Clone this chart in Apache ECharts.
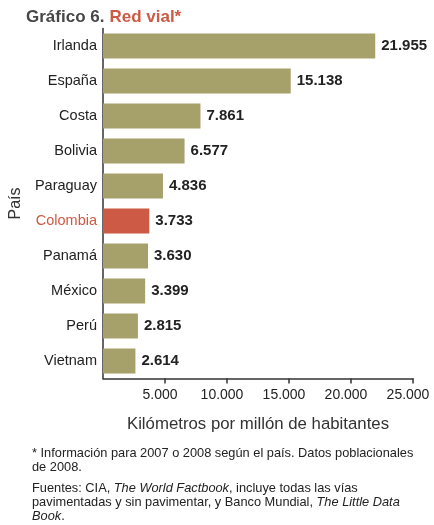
<!DOCTYPE html>
<html>
<head>
<meta charset="utf-8">
<script src="https://cdn.jsdelivr.net/npm/echarts@6/dist/echarts.min.js"></script>
<style>
  html, body { margin: 0; padding: 0; background: #fff; }
  #chart { width: 434px; height: 525px; }
</style>
</head>
<body>
<div id="chart"></div>
<script>
// Red vial: kilómetros de vías por millón de habitantes
var paises = ['Irlanda', 'España', 'Costa', 'Bolivia', 'Paraguay', 'Colombia', 'Panamá', 'México', 'Perú', 'Vietnam'];
var kmPorMillon = [21955, 15138, 7861, 6577, 4836, 3733, 3630, 3399, 2815, 2614];
var ticksX = [5000, 10000, 15000, 20000, 25000];
var destacado = 'Colombia';

var OLIVA = '#a6a06b';
var ROJO = '#cd5a44';
var FONT = '"Liberation Sans", Arial, sans-serif';

function miles(v) {
  return String(v).replace(/\B(?=(\d{3})+(?!\d))/g, '.');
}

var chart = echarts.init(document.getElementById('chart'));

chart.setOption({
  animation: false,
  textStyle: { fontFamily: FONT },
  title: {
    text: '{a|Gráfico 6.} {b|Red vial*}',
    left: 21,
    top: 3,
    textStyle: {
      rich: {
        a: { fontFamily: FONT, fontSize: 17, fontWeight: 'bold', color: '#474747' },
        b: { fontFamily: FONT, fontSize: 17, fontWeight: 'bold', color: ROJO }
      }
    }
  },
  grid: { left: 103, right: 21, top: 28.5, bottom: 146.5, containLabel: false },
  xAxis: {
    type: 'value',
    min: 0,
    max: 25000,
    interval: 5000,
    splitLine: { show: false },
    axisLine: { show: true, lineStyle: { color: '#333', width: 1.5 } },
    axisTick: {
      show: true, length: 5, lineStyle: { color: '#333', width: 1.5 },
      customValues: ticksX
    },
    axisLabel: {
      margin: 10,
      fontSize: 14,
      color: '#222',
      padding: [0, 10, 0, 0],
      customValues: ticksX,
      formatter: function (v) { return v === 0 ? '' : miles(v); }
    },
    name: 'Kilómetros por millón de habitantes',
    nameLocation: 'middle',
    nameGap: 37,
    nameTextStyle: { fontSize: 16.8, color: '#333', fontFamily: FONT }
  },
  yAxis: {
    type: 'category',
    data: paises,
    inverse: true,
    axisLine: { show: true, lineStyle: { color: '#333', width: 1.5 } },
    axisTick: { show: false },
    axisLabel: {
      margin: 6,
      fontSize: 14.5,
      color: '#222',
      formatter: function (v) { return v === destacado ? '{r|' + v + '}' : v; },
      rich: { r: { color: ROJO, fontSize: 14.5, fontFamily: FONT } }
    },
    name: 'País',
    nameLocation: 'middle',
    nameGap: 77,
    nameRotate: 90,
    nameTextStyle: { fontSize: 16, color: '#333', fontFamily: FONT }
  },
  series: [{
    type: 'bar',
    barWidth: 25,
    data: kmPorMillon.map(function (v, i) {
      return {
        value: v,
        itemStyle: { color: paises[i] === destacado ? ROJO : OLIVA }
      };
    }),
    label: {
      show: true,
      position: 'right',
      distance: 6,
      fontSize: 15,
      fontWeight: 'bold',
      color: '#222',
      formatter: function (p) { return miles(p.value); }
    }
  }],
  graphic: [
    {
      type: 'text', left: 32, top: 446,
      style: {
        text: '* Información para 2007 o 2008 según el país. Datos poblacionales\nde 2008.',
        fontFamily: FONT, fontSize: 12.8, lineHeight: 14, fill: '#222'
      }
    },
    {
      type: 'text', left: 32, top: 481,
      style: {
        text: 'Fuentes: CIA, {i|The World Factbook}, incluye todas las vías\npavimentadas y sin pavimentar, y Banco Mundial, {i|The Little Data}\n{i|Book}.',
        fontFamily: FONT, fontSize: 12.8, lineHeight: 14, fill: '#222',
        rich: { i: { fontStyle: 'italic', fontFamily: FONT, fontSize: 12.8, lineHeight: 14, fill: '#222' } }
      }
    }
  ]
});
</script>
</body>
</html>
